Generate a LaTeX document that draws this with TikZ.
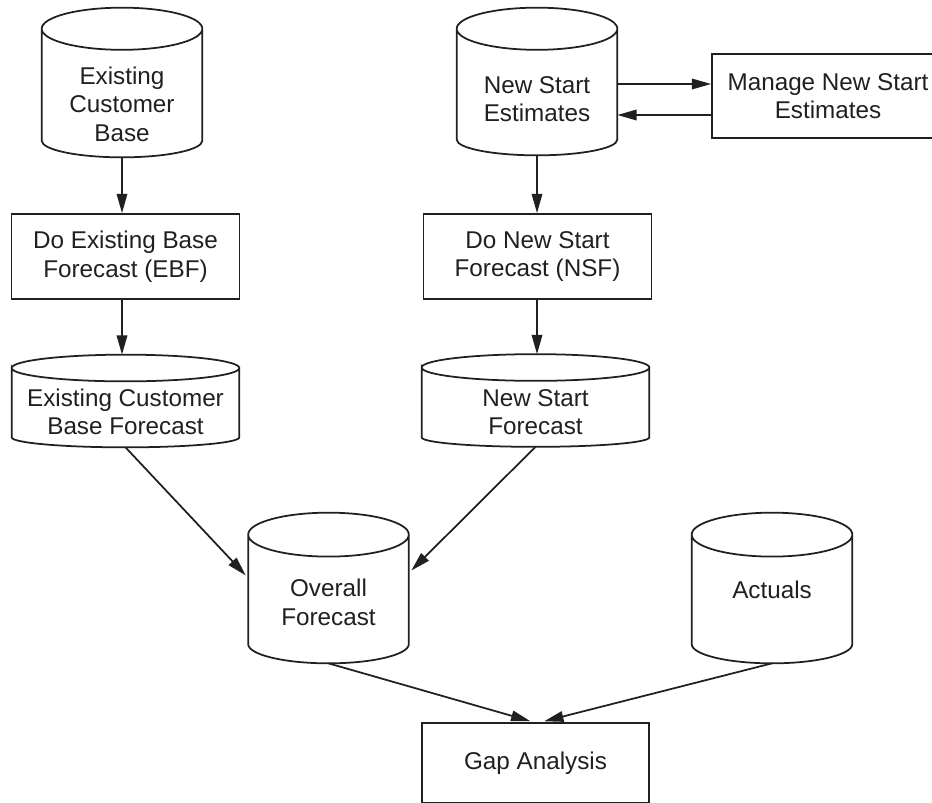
\documentclass[tikz,border=0pt]{standalone}
\usepackage{fontspec}
\setmainfont{Liberation Sans}
\usetikzlibrary{arrows.meta,positioning,calc}
\definecolor{Ink}{HTML}{231F20}
\tikzset{
  box/.style={draw=Ink,fill=white,line width=1pt,align=center,text=Ink,font=\fontsize{13.8}{16.2}\selectfont},
  store/.style={align=center,text=Ink,font=\fontsize{13.8}{16.2}\selectfont,inner sep=0pt,execute at begin node={\rule{0pt}{#1}}},
  smallstore/.style={store=#1,minimum width=3.2cm,minimum height=2.98cm},
  widestore/.style={store=#1,minimum width=4.54cm,minimum height=1.84cm},
  outline/.style={draw=Ink,line width=1pt},
  arr/.style={-{Triangle[length=11pt,width=6pt]},draw=Ink,line width=1pt}
}
% cylinder border round a store node: node, top radius, bottom radius
\newcommand{\storeoutline}[3]{%
  \draw[outline] let \p1=(#1.north west), \p2=(#1.south east), \n1={(\x2-\x1)/2} in
    (\x1,\y1-#2) arc[start angle=180,end angle=-180,x radius=\n1,y radius=#2]
    -- (\x1,\y2+#3) arc[start angle=180,end angle=360,x radius=\n1,y radius=#3]
    -- (\x2,\y1-#2);
}
\begin{document}
\begin{tikzpicture}[x=0.02cm,y=-0.02cm]
  \clip (0,0) rectangle (932,803);
  \fill[white] (0,0) rectangle (932,803);
  % existing base column
  \node[smallstore=66.9pt] (ecb) at (122,82.5) {Existing\\Customer\\Base};
  \node[box,minimum width=4.56cm,minimum height=1.7cm] (ebf) at (125.5,256.5) {Do Existing Base\\Forecast (EBF)};
  \node[widestore=38.7pt] (ecbf) at (125.5,401) {Existing Customer\\Base Forecast};
  % new start column
  \node[smallstore=46.1pt,minimum height=2.94cm] (nse) at (537,81.5) {New Start\\Estimates};
  \node[box,minimum width=4.64cm,minimum height=1.68cm] (manage) at (828,96) {Manage New Start\\Estimates};
  \node[box,minimum width=4.56cm,minimum height=1.7cm] (nsf) at (537.5,256.5) {Do New Start\\Forecast (NSF)};
  \node[widestore=39.3pt] (nsfc) at (535.5,400.5) {New Start\\Forecast};
  % bottom row
  \node[smallstore=42.7pt,minimum height=3cm] (overall) at (328.5,588) {Overall\\Forecast};
  \node[smallstore=12.5pt,minimum height=3cm] (actuals) at (772,588) {Actuals};
  \node[box,minimum width=4.54cm,minimum height=1.6cm] (gap) at (535.5,763) {Gap Analysis};
  \storeoutline{ecb}{12pt}{9.5pt}
  \storeoutline{nse}{12pt}{9pt}
  \storeoutline{overall}{12.5pt}{11pt}
  \storeoutline{actuals}{12.5pt}{11pt}
  \storeoutline{ecbf}{7.6pt}{5.7pt}
  \storeoutline{nsfc}{7.6pt}{5.4pt}
  \draw[arr] (ecb.south) -- (ecb.south |- ebf.north);
  \draw[arr] (ecb.south |- ebf.south) -- (ecb.south |- ecbf.north);
  \draw[arr] (nse.south) -- (nse.south |- nsf.north);
  \draw[arr] (nse.south |- nsf.south) -- (nse.south |- nsfc.north);
  \draw[arr] (nse.east |- 0,84) -- (manage.west |- 0,84);
  \draw[arr] (manage.west |- 0,115) -- (nse.east |- 0,115);
  \draw[arr,shorten >=2pt] (ecbf.south) -- (overall.west |- 0,578);
  \draw[arr,shorten >=2pt] (nsfc.south) -- (overall.east |- 0,573);
  \draw[arr,shorten >=2pt] (overall.south) -- ([xshift=-1pt]gap.north);
  \draw[arr,shorten >=2pt] (actuals.south) -- ([xshift=3pt]gap.north);
\end{tikzpicture}
\end{document}
